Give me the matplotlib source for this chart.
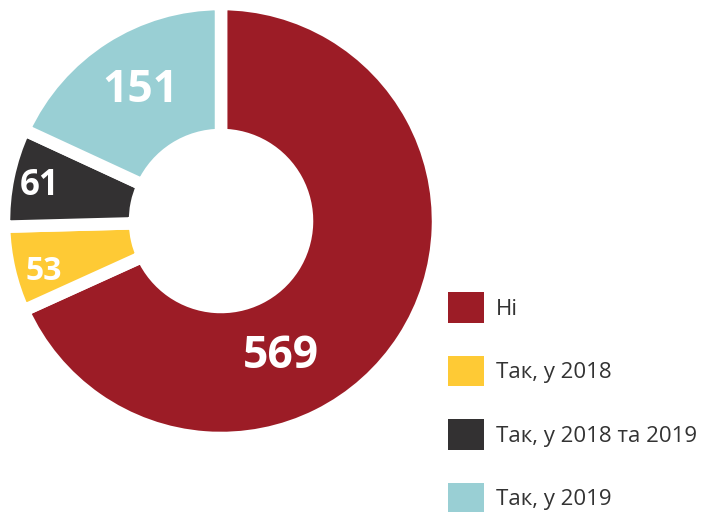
import matplotlib
matplotlib.use("Agg")
import matplotlib.pyplot as plt
from matplotlib.patches import Patch

categories = ["Ні", "Так, у 2018", "Так, у 2018 та 2019", "Так, у 2019"]
values = [569, 53, 61, 151]
colors = ["#9C1C26", "#FECA35", "#333132", "#99CFD4"]

# layout (pixel coordinates, origin bottom-left)
W, H = 706, 512
center = (221, 291)
R = 217
hole = 86
label_xy = [(281, 156), (44, 240), (40, 326), (140, 421)]
label_size = [32, 23, 25, 32]

plt.rcParams['font.family'] = ['Open Sans', 'DejaVu Sans']
fig = plt.figure(figsize=(W / 100, H / 100), dpi=100)
ax = fig.add_axes([0, 0, 1, 1])
wedges, _ = ax.pie(values, colors=colors, startangle=90, counterclock=False,
                   center=center, radius=R,
                   wedgeprops=dict(width=R - hole, edgecolor="white", linewidth=9))
ax.set_xlim(0, W)
ax.set_ylim(0, H)
ax.set_aspect('equal')
ax.axis('off')

for v, (x, y), s in zip(values, label_xy, label_size):
    ax.text(x, y, str(v), color="white", fontsize=s, fontweight="bold",
            ha="center", va="center")

handles = [Patch(facecolor=c, edgecolor="none") for c in colors]
leg = ax.legend(handles, categories, loc="upper left", bbox_to_anchor=(448 / W, 1 - 292 / H),
                frameon=False, fontsize=16, handlelength=1.62, handleheight=1.75,
                handletextpad=0.55, labelspacing=1.48, borderaxespad=0, borderpad=0)
for t in leg.get_texts():
    t.set_color("#333333")

fig.savefig("out.png", dpi=100)
